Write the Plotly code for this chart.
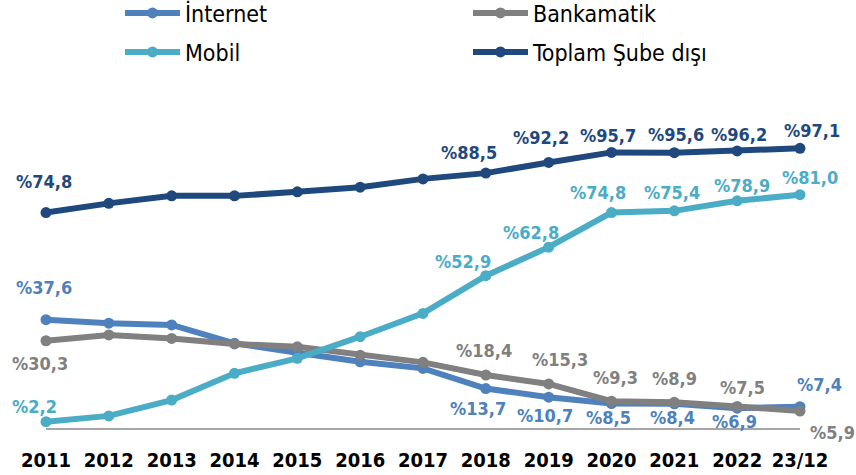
import plotly.graph_objects as go

# Categories and series (share of transactions, %)
years = ["2011", "2012", "2013", "2014", "2015", "2016", "2017",
         "2018", "2019", "2020", "2021", "2022", "23/12"]
internet = [37.6, 36.4, 35.8, 29.4, 26.1, 23.0, 20.7, 13.7, 10.7, 8.5, 8.4, 6.9, 7.4]
bankamatik = [30.3, 32.3, 31.1, 29.2, 28.2, 25.3, 22.8, 18.4, 15.3, 9.3, 8.9, 7.5, 5.9]
mobil = [2.2, 4.2, 9.7, 19.0, 24.2, 31.7, 39.8, 52.9, 62.8, 74.8, 75.4, 78.9, 81.0]
toplam = [74.8, 78.0, 80.6, 80.6, 82.0, 83.6, 86.5, 88.5, 92.2, 95.7, 95.6, 96.2, 97.1]

# Which points carry a value label
labeled = [0, 7, 8, 9, 10, 11, 12]

FONT = "DejaVu Sans Condensed, Liberation Sans Narrow, Arial Narrow, sans-serif"

series = [
    ("İnternet", internet, "#4F81BD", "legend",
     {0: (-2, 32), 7: (-8, -20), 8: (-4, -18), 9: (-3, -14), 10: (-2, -14), 11: (-3, -13), 12: (19, 22)}),
    ("Bankamatik", bankamatik, "#808080", "legend",
     {0: (-6, -23), 7: (-2, 25), 8: (11, 24), 9: (4, 24), 10: (0, 24), 11: (5, 19), 12: (32, -21)}),
    ("Mobil", mobil, "#4BACC6", "legend2",
     {0: (-12, 15), 7: (-23, 14), 8: (-18, 15), 9: (-14, 20), 10: (-2, 18), 11: (5, 15), 12: (10, 17)}),
    ("Toplam Şube dışı", toplam, "#1F497D", "legend2",
     {0: (-2, 31), 7: (-17, 21), 8: (-8, 25), 9: (-4, 17), 10: (2, 18), 11: (2, 16), 12: (12, 18)}),
]

fig = go.Figure()
annotations = []
for name, vals, color, leg, offs in series:
    fig.add_trace(go.Scatter(
        x=years, y=vals, name=name, mode="lines+markers",
        line=dict(color=color, width=6),
        marker=dict(color=color, size=11),
        cliponaxis=False, legend=leg,
    ))
    for i in labeled:
        dx, dy = offs[i]
        annotations.append(dict(
            x=i, y=vals[i], xref="x", yref="y",
            text="%" + f"{vals[i]:.1f}".replace(".", ","),
            showarrow=False, xshift=dx, yshift=dy,
            font=dict(family=FONT, size=18, color=color, weight="bold"),
        ))

legend_common = dict(
    orientation="h", xref="container", yref="container",
    xanchor="left", yanchor="middle",
    font=dict(family=FONT, size=23, color="#000000"),
    itemwidth=55, entrywidth=278, entrywidthmode="pixels",
    bgcolor="rgba(0,0,0,0)", traceorder="normal",
)

fig.update_layout(
    width=856, height=475,
    margin=dict(l=46, r=56, t=140, b=47),
    plot_bgcolor="white", paper_bgcolor="white",
    showlegend=True,
    legend=dict(x=120 / 856, y=1 - 13 / 475, **legend_common),
    legend2=dict(x=120 / 856, y=1 - 52 / 475, **legend_common),
    xaxis=dict(
        type="category", range=[0, 12],
        showgrid=False, zeroline=False,
        showline=True, linecolor="#A6A6A6", linewidth=1.5,
        ticks="", ticklabelstandoff=13, tickangle=0, automargin=False,
        tickfont=dict(family=FONT, size=20, color="#000000", weight="bold"),
    ),
    yaxis=dict(range=[0, 100], visible=False, showgrid=False, zeroline=False),
    annotations=annotations,
)

fig.write_html("out.html")
